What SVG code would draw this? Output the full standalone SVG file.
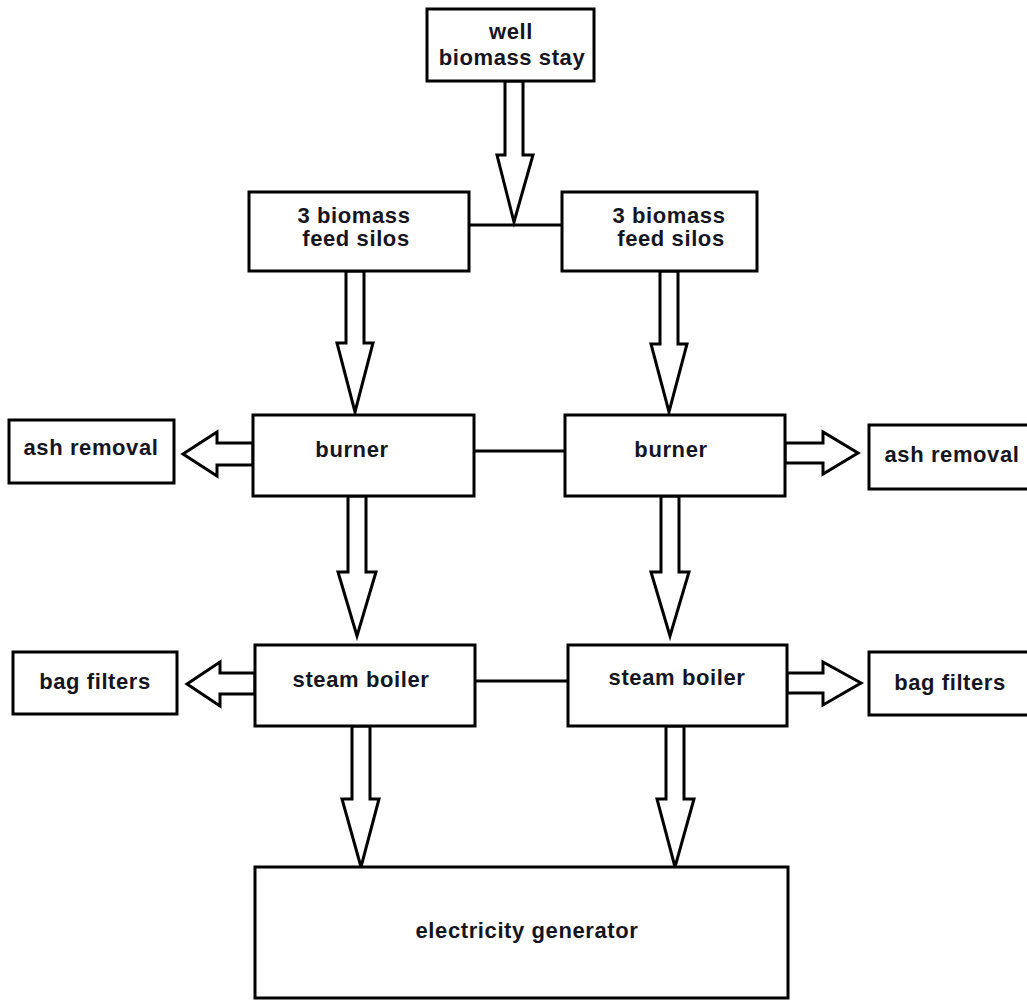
<svg xmlns="http://www.w3.org/2000/svg" width="1027" height="1001" viewBox="0 0 1027 1001">
  <style>
    .box { fill: #ffffff; stroke: #000000; stroke-width: 3; }
    .flow { fill: #ffffff; stroke: #000000; stroke-width: 3; stroke-linejoin: miter; }
    .link { stroke: #000000; stroke-width: 3; fill: none; }
    .label { font-family: "Liberation Sans", Arial, sans-serif; font-weight: bold; font-size: 22px; letter-spacing: 0.6px; fill: #15151f; text-anchor: middle; }
  </style>
  <rect x="0" y="0" width="1027" height="1001" fill="#ffffff"/>

  <!-- connectors: block arrows and tie lines -->
  <g id="connectors">
    <line class="link" x1="469" y1="225" x2="562" y2="225"/>
    <line class="link" x1="474" y1="451" x2="565" y2="451"/>
    <line class="link" x1="475" y1="681" x2="568" y2="681"/>

    <polygon class="flow" points="505,81 523,81 523,155 533,155 514,222 497,155 505,155"/>

    <polygon class="flow" points="346,271 364,271 364,343 373,343 355,412 337,343 346,343"/>
    <polygon class="flow" points="660,271 678,271 678,344 687,344 669,412 651,344 660,344"/>

    <polygon class="flow" points="348,496 366,496 366,572 376,572 357,636 338,572 348,572"/>
    <polygon class="flow" points="661,496 679,496 679,572 689,572 670,636 651,572 661,572"/>

    <polygon class="flow" points="352,726 370,726 370,799 379,799 361,867 342,799 352,799"/>
    <polygon class="flow" points="666,726 684,726 684,799 694,799 675,867 657,799 666,799"/>

    <polygon class="flow" points="253,443 217,443 217,432 183,454 217,476 217,465 253,465"/>
    <polygon class="flow" points="785,443 823,443 823,432 858,453 823,474 823,463 785,463"/>

    <polygon class="flow" points="255,673 220,673 220,662 187,684 220,706 220,694 255,694"/>
    <polygon class="flow" points="787,673 823,673 823,662 861,683 823,705 823,693 787,693"/>
  </g>

  <g id="stay">
    <rect class="box" x="427" y="9" width="167" height="72"/>
    <text class="label" x="511" y="39">well</text>
    <text class="label" x="512" y="65">biomass stay</text>
  </g>

  <g id="silos-left">
    <rect class="box" x="249" y="192" width="220" height="79"/>
    <text class="label" x="354" y="223">3 biomass</text>
    <text class="label" x="356" y="246">feed silos</text>
  </g>

  <g id="silos-right">
    <rect class="box" x="562" y="192" width="195" height="79"/>
    <text class="label" x="669" y="223">3 biomass</text>
    <text class="label" x="671" y="246">feed silos</text>
  </g>

  <g id="burner-left">
    <rect class="box" x="253" y="415" width="221" height="81"/>
    <text class="label" x="352" y="457">burner</text>
  </g>

  <g id="burner-right">
    <rect class="box" x="565" y="415" width="220" height="81"/>
    <text class="label" x="671" y="457">burner</text>
  </g>

  <g id="ash-left">
    <rect class="box" x="9" y="420" width="165" height="63"/>
    <text class="label" x="91" y="455">ash removal</text>
  </g>

  <g id="ash-right">
    <rect class="box" x="869" y="425" width="165" height="64"/>
    <text class="label" x="952" y="462">ash removal</text>
  </g>

  <g id="boiler-left">
    <rect class="box" x="255" y="645" width="220" height="81"/>
    <text class="label" x="361" y="687">steam boiler</text>
  </g>

  <g id="boiler-right">
    <rect class="box" x="568" y="645" width="219" height="81"/>
    <text class="label" x="677" y="685">steam boiler</text>
  </g>

  <g id="filters-left">
    <rect class="box" x="13" y="652" width="164" height="62"/>
    <text class="label" x="95" y="689">bag filters</text>
  </g>

  <g id="filters-right">
    <rect class="box" x="869" y="652" width="165" height="63"/>
    <text class="label" x="950" y="690">bag filters</text>
  </g>

  <g id="generator">
    <rect class="box" x="255" y="867" width="533" height="131"/>
    <text class="label" x="527" y="938">electricity generator</text>
  </g>
</svg>
